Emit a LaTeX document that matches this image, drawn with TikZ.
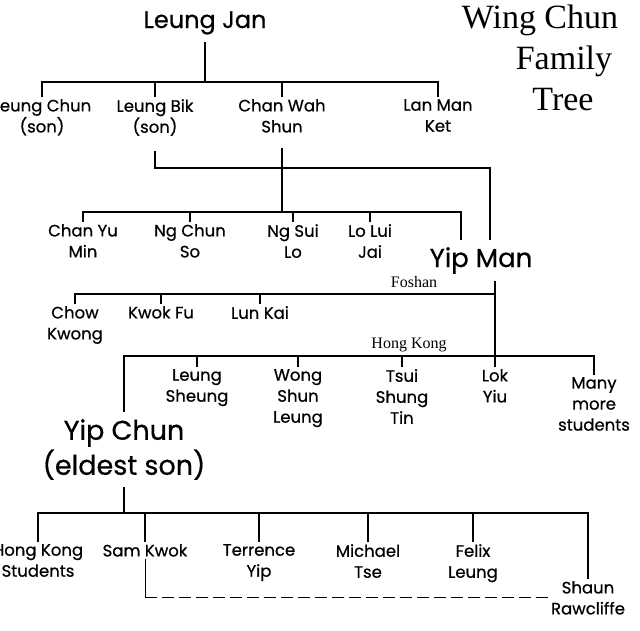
\documentclass[tikz,border=0pt]{standalone}
\usepackage{fontspec}
\setmainfont{Poppins}[FakeBold=0.6]
\newfontfamily\placefont{Liberation Serif}
\usetikzlibrary{calc}
\tikzset{
  person/.style={font=\fontsize{16.5}{21}\selectfont, align=center, anchor=north, inner sep=2pt},
  master/.style={font=\fontsize{26}{35}\selectfont, align=center, inner xsep=2pt, inner ysep=7pt},
  place/.style={font=\placefont\fontsize{16}{18}\selectfont, anchor=base, inner sep=0pt},
  heading/.style={font=\placefont\fontsize{34}{41}\selectfont, anchor=base, inner sep=0pt},
  branch/.style={line width=1.4pt},
  link/.style={line width=.8pt}
}
\begin{document}
\begin{tikzpicture}[x=1pt,y=-1pt]
 \useasboundingbox (0,0) rectangle (640,630);
 \node[heading] (wing) at (540,28) {Wing Chun};
 \node[heading] (family) at (564,69) {Family};
 \node[heading] (tree) at (563,110) {Tree};

 \node[master,anchor=base,font=\fontsize{24}{30}\selectfont] (jan) at (205,28) {Leung Jan};
 \coordinate (b1) at (0,82);
 \node[person] (lchun) at (42,97) {Leung Chun\\(son)};
 \node[person] (lbik) at (155,97) {Leung Bik\\(son)};
 \node[person] (cws) at (282,97) {Chan Wah\\Shun};
 \node[person] (lmk) at (438,97) {Lan Man\\Ket};
 \draw[branch] (jan.south) -- (jan.south |- b1);
 \draw[branch] (lchun.north) -- (lchun.north |- b1) -- (lmk.north |- b1) -- (lmk.north);
 \foreach \n in {lbik,cws} \draw[branch] (\n.north) -- (\n.north |- b1);

 \node[master,anchor=base] (ym) at (481,267) {Yip Man};
 \coordinate (b2) at (0,168);
 \coordinate (b3) at (0,212);
 \node[person] (cym) at (83,222) {Chan Yu\\Min};
 \node[person] (ncs) at (190,222) {Ng Chun\\So};
 \node[person] (nsl) at (293,222) {Ng Sui\\Lo};
 \node[person] (llj) at (370,222) {Lo Lui\\Jai};
 \draw[branch] ([yshift=-13pt]lbik.south) -- (lbik.south |- b2) -| ([xshift=9pt]ym.north);
 \draw[branch] ([yshift=-13pt]cws.south) -- (cws.south |- b3);
 \draw[branch] (cym.north) -- (cym.north |- b3) -| ([xshift=-20pt]ym.north);
 \foreach \n in {ncs,nsl,llj} \draw[branch] (\n.north) -- (\n.north |- b3);

 \coordinate (trunk) at ([xshift=14pt]ym.south);
 \coordinate (b4) at (0,294);
 \node[place] (foshan) at (414,287) {Foshan};
 \node[person] (chow) at (75,304) {Chow\\Kwong};
 \node[person] (kwok) at (161,304) {Kwok Fu};
 \node[person] (lun) at (260,304) {Lun Kai};
 \draw[branch] (chow.north) -- (chow.north |- b4) -- (trunk |- b4);
 \foreach \n in {kwok,lun} \draw[branch] (\n.north) -- (\n.north |- b4);

 \coordinate (b5) at (0,356);
 \node[place] (hk) at (409,348) {Hong Kong};
 \node[person] (ls) at (197,367) {Leung\\Sheung};
 \node[person] (wsl) at (298,367) {Wong\\Shun\\Leung};
 \node[person] (tst) at (402,367) {Tsui\\Shung\\Tin};
 \node[person] (lok) at (trunk |- 0,367) {Lok\\Yiu};
 \node[person] (mms) at (594,375) {Many\\more\\students};
 \node[master,anchor=north,font=\fontsize{27}{35}\selectfont] (yc) at (124,412) {Yip Chun\\(eldest son)};
 \draw[branch] (trunk) -- (lok.north);
 \draw[branch] (yc.north) -- (yc.north |- b5) -- (mms.north |- b5) -- (mms.north);
 \foreach \n in {ls,wsl,tst} \draw[branch] (\n.north) -- (\n.north |- b5);

 \coordinate (b6) at (0,513);
 \node[person] (hks) at (38,542) {Hong Kong\\Students};
 \node[person] (sam) at (145,542) {Sam Kwok};
 \node[person] (ty) at (259,542) {Terrence\\Yip};
 \node[person] (mt) at (368,542) {Michael\\Tse};
 \node[person] (fl) at (473,542) {Felix\\Leung};
 \node[person] (sr) at (588,579) {Shaun\\Rawcliffe};
 \draw[branch] (yc.south) -- (yc.south |- b6);
 \draw[branch] (hks.north) -- (hks.north |- b6) -- (sr.north |- b6) -- (sr.north);
 \foreach \n in {sam,ty,mt,fl} \draw[branch] (\n.north) -- (\n.north |- b6);
 \draw[link] (sam.south) -- (sam.south |- sr.west) coordinate (corner);
 \draw[link,dash pattern=on 12pt off 5pt] (corner) -- (sr.west);
\end{tikzpicture}
\end{document}
